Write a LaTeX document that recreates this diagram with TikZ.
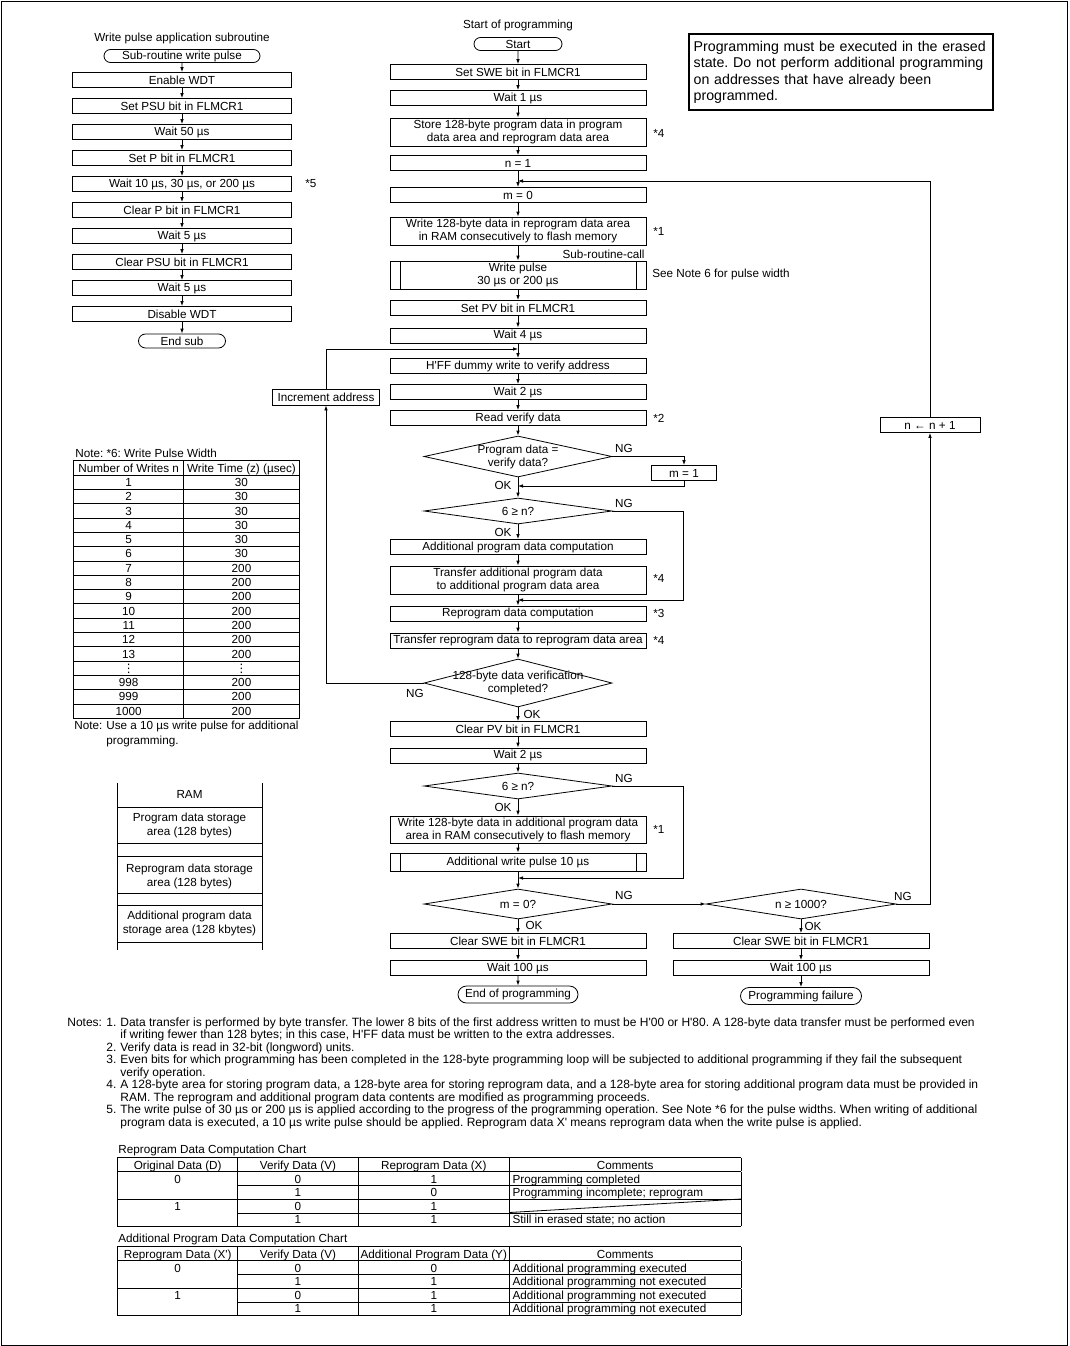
\documentclass[tikz,border=0pt]{standalone}
\usepackage{fontspec}
\setmainfont{Liberation Sans}
\newfontfamily\symfont{DejaVu Sans}
\usepackage{array}
\usepackage{tikz}
\usetikzlibrary{calc}
\usetikzlibrary{positioning}
\usetikzlibrary{shapes.geometric,shapes.misc,arrows.meta}
\frenchspacing

\newcommand{\fs}{\fontsize{11.7}{13}\selectfont}
\newcommand{\fsbig}{\fontsize{14.2}{16.4}\selectfont}
\newcommand{\fsnote}{\fontsize{12}{12.5}\selectfont}
\newcommand{\fstab}{\fontsize{11.7}{8}\selectfont\setlength{\extrarowheight}{5.2pt}}

\tikzset{
  box/.style={draw, rectangle, minimum width=256pt, minimum height=15pt, inner sep=0pt, align=center, font=\fs},
  dbox/.style={box, minimum height=28pt},
  sbox/.style={box, minimum width=219pt},
  subbox/.style={box, path picture={
      \draw ([xshift=10pt]path picture bounding box.north west) -- ([xshift=10pt]path picture bounding box.south west);
      \draw ([xshift=-10pt]path picture bounding box.north east) -- ([xshift=-10pt]path picture bounding box.south east);}},
  term/.style={draw, rounded rectangle, minimum height=13pt, inner sep=0pt, font=\fs},
  dec/.style={draw, diamond, minimum width=188pt, inner xsep=-45pt, inner ysep=-14pt, align=center, font=\fs},
  lbl/.style={inner sep=0pt, font=\fs},
  flow/.style={-{Latex[length=5pt,width=3.6pt]}},
}

\begin{document}
\begin{tikzpicture}[x=1pt, y=-1pt, line width=0.8pt]
\useasboundingbox (0,0) rectangle (1069,1346);
\draw (1,1) rectangle (1067,1345);

% Write pulse subroutine
\node[lbl] (stitle) at (182,38) {Write pulse application subroutine};
\node[term, minimum width=156pt] (sstart) at (182,56) {Sub-routine write pulse};
\node[sbox] (s1) at (182,80) {Enable WDT};
\node[sbox] (s2) at (182,106) {Set PSU bit in FLMCR1};
\node[sbox] (s3) at (182,132) {Wait 50 µs};
\node[sbox] (s4) at (182,158) {Set P bit in FLMCR1};
\node[sbox] (s5) at (182,184) {Wait 10 µs, 30 µs, or 200 µs};
\node[sbox] (s6) at (182,210) {Clear P bit in FLMCR1};
\node[sbox] (s7) at (182,236) {Wait 5 µs};
\node[sbox] (s8) at (182,262) {Clear PSU bit in FLMCR1};
\node[sbox] (s9) at (182,288) {Wait 5 µs};
\node[sbox] (s10) at (182,314) {Disable WDT};
\node[term, minimum width=87pt, minimum height=14pt] (send) at (182,341) {End sub};
\node[lbl, anchor=west] (st5) at (305,184) {*5};

\draw[flow] (sstart) -- (s1);
\draw[flow] (s1) -- (s2);
\draw[flow] (s2) -- (s3);
\draw[flow] (s3) -- (s4);
\draw[flow] (s4) -- (s5);
\draw[flow] (s5) -- (s6);
\draw[flow] (s6) -- (s7);
\draw[flow] (s7) -- (s8);
\draw[flow] (s8) -- (s9);
\draw[flow] (s9) -- (s10);
\draw[flow] (s10) -- (send);

% Main programming flow
\node[lbl] (mtitle) at (518,25) {Start of programming};
\node[term, minimum width=88pt] (start) at (518,44) {Start};
\node[box] (m1) at (518,72) {Set SWE bit in FLMCR1};
\node[box] (m2) at (518,98) {Wait 1 µs};
\node[dbox] (m3) at (518,132) {Store 128-byte program data in program\\data area and reprogram data area};
\node[box] (m4) at (518,163) {n = 1};
\coordinate (j1) at (518,181);
\node[box] (m5) at (518,195) {m = 0};
\node[dbox] (m6) at (518,231) {Write 128-byte data in reprogram data area\\in RAM consecutively to flash memory};
\node[lbl, anchor=east] (call) at (645,254) {Sub-routine-call};
\node[subbox, minimum height=28pt] (m7) at (518,275) {Write pulse\\30 µs or 200 µs};
\node[lbl, anchor=west] (see) at (652,274) {See Note 6 for pulse width};
\node[box] (m8) at (518,308) {Set PV bit in FLMCR1};
\node[box] (m9) at (518,335.5) {Wait 4 µs};
\coordinate (j2) at (518,349);
\node[box] (m10) at (518,366) {H\textquotesingle FF dummy write to verify address};
\node[box] (m11) at (518,392) {Wait 2 µs};
\node[box] (m12) at (518,418) {Read verify data};
\node[dec, minimum height=41pt] (d1) at (518,456.5) {Program data =\\verify data?};
\node[box, minimum width=65pt] (mone) at (684,473) {m = 1};
\coordinate (j3) at (518,486);
\node[dec, minimum height=26pt] (d2) at (518,511) {6 ≥ n?};
\node[box] (m13) at (518,547) {Additional program data computation};
\node[dbox] (m14) at (518,580) {Transfer additional program data\\to additional program data area};
\coordinate (c2) at (683,600);
\coordinate (j4) at (518,600);
\node[box] (m15) at (518,613.5) {Reprogram data computation};
\node[box] (m16) at (518,640.5) {Transfer reprogram data to reprogram data area};
\node[dec, minimum height=48pt] (d3) at (518,683) {128-byte data verification\\completed?};
\node[box, minimum width=107pt, minimum height=16pt] (inc) at (326,397) {Increment address};
\node[box] (m17) at (518,729) {Clear PV bit in FLMCR1};
\node[box] (m18) at (518,755.5) {Wait 2 µs};
\node[dec, minimum height=26pt] (d4) at (518,786) {6 ≥ n?};
\node[dbox, minimum height=27pt] (m19) at (518,829.5) {Write 128-byte data in additional program data\\area in RAM consecutively to flash memory};
\node[subbox, minimum height=18pt] (m20) at (518,862) {Additional write pulse 10 µs};
\coordinate (c4) at (683,878);
\coordinate (j5) at (518,878);
\node[dec, minimum height=30pt] (d5) at (518,904) {m = 0?};
\node[box] (m21) at (518,941) {Clear SWE bit in FLMCR1};
\node[box] (m22) at (518,968) {Wait 100 µs};
\node[term, minimum width=120pt, minimum height=17pt] (mend) at (518,994.5) {End of programming};

% Failure branch
\node[dec, minimum width=190pt, minimum height=30pt] (d6) at (801,904) {n ≥ 1000?};
\node[box] (r1) at (801,941) {Clear SWE bit in FLMCR1};
\node[box] (r2) at (801,968) {Wait 100 µs};
\node[term, minimum width=121pt, minimum height=17pt] (rend) at (801,996) {Programming failure};
\node[box, minimum width=100pt] (ninc) at (930,425) {n ← n + 1};

% Note references
\node[lbl, anchor=west] (st4a) at (653,133) {*4};
\node[lbl, anchor=west] (st1a) at (653,231) {*1};
\node[lbl, anchor=west] (st2) at (653,418) {*2};
\node[lbl, anchor=west] (st4b) at (653,578) {*4};
\node[lbl, anchor=west] (st3) at (653,613.5) {*3};
\node[lbl, anchor=west] (st4c) at (653,640.5) {*4};
\node[lbl, anchor=west] (st1b) at (653,829) {*1};

% NG / OK
\node[lbl] (ng1) at (624,448) {NG};
\node[lbl] (ng2) at (624,503) {NG};
\node[lbl] (ng3) at (415,693) {NG};
\node[lbl] (ng4) at (624,778) {NG};
\node[lbl] (ng5) at (624,895) {NG};
\node[lbl] (ng6) at (903,896) {NG};
\node[lbl] (ok1) at (503,485) {OK};
\node[lbl] (ok2) at (503,532) {OK};
\node[lbl] (ok3) at (532,714) {OK};
\node[lbl] (ok4) at (503,807) {OK};
\node[lbl] (ok5) at (534,925) {OK};
\node[lbl] (ok6) at (813,926) {OK};

% Draw arrows
\draw[flow] (start) -- (m1);
\draw[flow] (m1) -- (m2);
\draw[flow] (m2) -- (m3);
\draw[flow] (m3) -- (m4);
\draw[flow] (m4) -- (m5);
\draw[flow] (m5) -- (m6);
\draw[flow] (m6) -- (m7);
\draw[flow] (m7) -- (m8);
\draw[flow] (m8) -- (m9);
\draw[flow] (m9) -- (m10);
\draw[flow] (m10) -- (m11);
\draw[flow] (m11) -- (m12);
\draw[flow] (m12) -- (d1);
\draw[flow] (d1) -- (d2);
\draw[flow] (d2) -- (m13);
\draw[flow] (m13) -- (m14);
\draw[flow] (m14) -- (m15);
\draw[flow] (m15) -- (m16);
\draw[flow] (m16) -- (d3);
\draw[flow] (d3) -- (m17);
\draw[flow] (m17) -- (m18);
\draw[flow] (m18) -- (d4);
\draw[flow] (d4) -- (m19);
\draw[flow] (m19) -- (m20);
\draw[flow] (m20) -- (d5);
\draw[flow] (d5) -- (m21);
\draw[flow] (m21) -- (m22);
\draw[flow] (m22) -- (mend);
\draw[flow] (d5) -- (d6);
\draw[flow] (d6) -- (r1);
\draw[flow] (r1) -- (r2);
\draw[flow] (r2) -- (rend);

\draw[flow] (d1.east) -| (mone.north);
\draw[flow] (mone.south) |- (j3);
\draw[flow] (d2.east) -| (c2) -- (j4);
\draw[flow] (d3.west) -| (inc.south);
\draw[flow] (inc.north) |- (j2);
\draw[flow] (d4.east) -| (c4) -- (j5);
\draw[flow] (d6.east) -| (ninc.south);
\draw[flow] (ninc.north) |- (j1);

% Warning box
\node[draw, line width=2.4pt, anchor=north west, minimum width=304pt, minimum height=76pt,
      text width=295pt, align=left, inner xsep=4pt, font=\fsbig] (warn) at (688,33)
  {Programming must be executed in the erased\\state. Do not perform additional programming\\on addresses that have already been\\programmed.};

% Write pulse width table
\node[lbl, anchor=west] (ptitle) at (75,453) {Note: *6: Write Pulse Width};
\node[anchor=north west, inner sep=0pt] (ptab) at (73,460) {\fontsize{11.7}{8.5}\selectfont
  \setlength{\extrarowheight}{5pt}%
  \setlength{\tabcolsep}{3pt}\setlength{\arrayrulewidth}{0.8pt}%
  \begin{tabular}{|w{c}{103pt}|w{c}{109pt}|}
  \hline Number of Writes n & Write Time (z) (µsec)\\ \hline
  1 & 30\\ \hline
  2 & 30\\ \hline
  3 & 30\\ \hline
  4 & 30\\ \hline
  5 & 30\\ \hline
  6 & 30\\ \hline
  7 & 200\\ \hline
  8 & 200\\ \hline
  9 & 200\\ \hline
  10 & 200\\ \hline
  11 & 200\\ \hline
  12 & 200\\ \hline
  13 & 200\\ \hline
  {\symfont ⋮} & {\symfont ⋮}\\ \hline
  998 & 200\\ \hline
  999 & 200\\ \hline
  1000 & 200\\ \hline
  \end{tabular}};
\node[anchor=north west, inner sep=0pt] (pnote) at (74,719) {\fontsize{11.7}{15}\selectfont
  \begin{tabular}{@{}p{32pt}@{}l@{}}
  Note: & Use a 10 µs write pulse for additional\\
        & programming.
  \end{tabular}};

% RAM map
\draw (117,783) -- (117,950);
\draw (262,783) -- (262,950);
\draw (117,807) -- (262,807);
\draw (117,843) -- (262,843);
\draw (117,856) -- (262,856);
\draw (117,893) -- (262,893);
\draw (117,905) -- (262,905);
\draw (117,942) -- (262,942);
\node[lbl] (ram) at (189.5,794) {RAM};
\node[lbl, align=center, font=\fontsize{11.7}{14}\selectfont] (ram1) at (189.5,825) {Program data storage\\area (128 bytes)};
\node[lbl, align=center, font=\fontsize{11.7}{14}\selectfont] (ram2) at (189.5,876) {Reprogram data storage\\area (128 bytes)};
\node[lbl, align=center, font=\fontsize{11.7}{14}\selectfont] (ram3) at (189.5,923) {Additional program data\\storage area (128 kbytes)};

% Notes
\node[anchor=north west, inner sep=0pt] (notes) at (67,1017) {\fsnote
  \begin{tabular}{@{}p{39pt}@{}p{14pt}@{}l@{}}
  Notes: & 1. & Data transfer is performed by byte transfer. The lower 8 bits of the first address written to must be H\textquotesingle 00 or H\textquotesingle 80. A 128-byte data transfer must be performed even\\
   & & if writing fewer than 128 bytes; in this case, H\textquotesingle FF data must be written to the extra addresses.\\
   & 2. & Verify data is read in 32-bit (longword) units.\\
   & 3. & Even bits for which programming has been completed in the 128-byte programming loop will be subjected to additional programming if they fail the subsequent\\
   & & verify operation.\\
   & 4. & A 128-byte area for storing program data, a 128-byte area for storing reprogram data, and a 128-byte area for storing additional program data must be provided in\\
   & & RAM. The reprogram and additional program data contents are modified as programming proceeds.\\
   & 5. & The write pulse of 30 µs or 200 µs is applied according to the progress of the programming operation. See Note *6 for the pulse widths. When writing of additional\\
   & & program data is executed, a 10 µs write pulse should be applied. Reprogram data X\textquotesingle{} means reprogram data when the write pulse is applied.
  \end{tabular}};

% Reprogram data computation chart
\node[lbl, anchor=west] (rtitle) at (118,1150) {Reprogram Data Computation Chart};
\node[anchor=north west, inner sep=0pt] (rtab) at (117,1157) {\fstab
  \setlength{\tabcolsep}{3pt}\setlength{\arrayrulewidth}{0.8pt}%
  \begin{tabular}{|w{c}{113pt}|w{c}{114pt}|w{c}{144pt}|w{l}{225pt}|}
  \hline Original Data (D) & Verify Data (V) & Reprogram Data (X) & \multicolumn{1}{w{c}{225pt}|}{Comments}\\ \hline
  0 & 0 & 1 & Programming completed\\ \cline{2-4}
    & 1 & 0 & Programming incomplete; reprogram\\ \hline
  1 & 0 & 1 & \\ \cline{2-4}
    & 1 & 1 & Still in erased state; no action\\ \hline
  \end{tabular}};
\draw (509.5,1212.5) -- (741,1199);

% Additional program data computation chart
\node[lbl, anchor=west] (atitle) at (118,1239) {Additional Program Data Computation Chart};
\node[anchor=north west, inner sep=0pt] (atab) at (117,1246) {\fstab
  \setlength{\tabcolsep}{3pt}\setlength{\arrayrulewidth}{0.8pt}%
  \begin{tabular}{|w{c}{113pt}|w{c}{114pt}|w{c}{144pt}|w{l}{225pt}|}
  \hline Reprogram Data (X\textquotesingle) & Verify Data (V) & Additional Program Data (Y) & \multicolumn{1}{w{c}{225pt}|}{Comments}\\ \hline
  0 & 0 & 0 & Additional programming executed\\ \cline{2-4}
    & 1 & 1 & Additional programming not executed\\ \hline
  1 & 0 & 1 & Additional programming not executed\\ \cline{2-4}
    & 1 & 1 & Additional programming not executed\\ \hline
  \end{tabular}};
\end{tikzpicture}
\end{document}
